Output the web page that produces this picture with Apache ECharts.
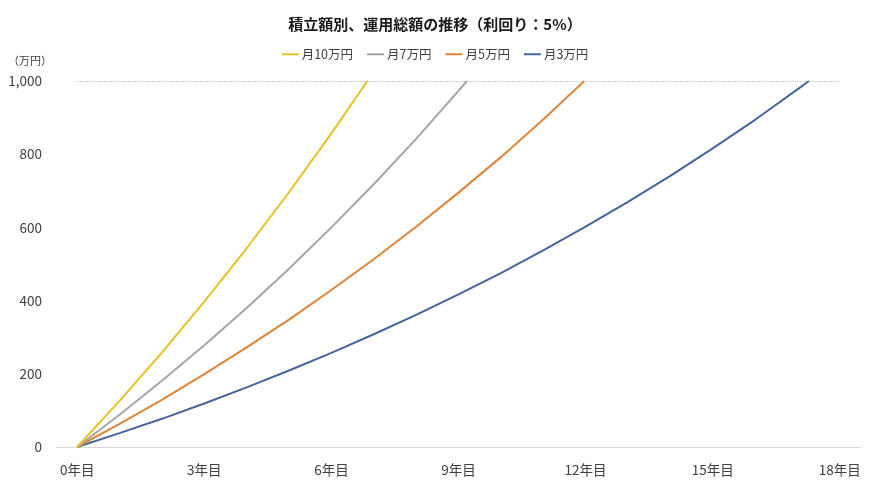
<!DOCTYPE html>
<html>
<head>
<meta charset="utf-8">
<script src="https://cdn.jsdelivr.net/npm/echarts@6/dist/echarts.min.js"></script>
<style>
  html, body { margin: 0; padding: 0; background: #fff; }
  #main { width: 870px; height: 489px; }
</style>
</head>
<body>
<div id="main"></div>
<script>
// 経過年数
var years = [0, 1, 2, 3, 4, 5, 6, 7, 8, 9, 10, 11, 12, 13, 14, 15, 16, 17];

// 運用総額（万円）
var m10Values = [0, 126, 258, 397, 543, 696, 857];
var m7Values = [0, 88, 181, 278, 380, 487, 600, 718, 842, 973];
var m5Values = [0, 63, 129, 199, 272, 348, 429, 513, 602, 695, 792, 895];
var m3Values = [0, 38, 77, 119, 163, 209, 257, 308, 361, 417, 475, 537, 602, 670, 741, 816, 894, 977];

// 1,000万円到達年
var m10Reach = 6.85;
var m7Reach = 9.2;
var m5Reach = 11.97;
var m3Reach = 17.27;

var goal = 1000;
var xTicks = [0, 3, 6, 9, 12, 15, 18];
var seriesNames = ['月10万円', '月7万円', '月5万円', '月3万円'];
var colors = ['#E6C224', '#A5A5A5', '#DD8539', '#46659C'];

var font = '"Noto Sans CJK JP", "Noto Sans", sans-serif';

function toPoints(vals, reach) {
    var pts = [];
    for (var i = 0; i < vals.length; i++) {
        pts.push([years[i], vals[i]]);
    }
    pts.push([reach, goal]);
    return pts;
}

var seriesData = [
    toPoints(m10Values, m10Reach),
    toPoints(m7Values, m7Reach),
    toPoints(m5Values, m5Reach),
    toPoints(m3Values, m3Reach)
];

var myChart = echarts.init(document.getElementById('main'));

var series = seriesData.map(function (d, idx) {
    return {
        name: seriesNames[idx],
        type: 'line',
        data: d,
        showSymbol: false,
        symbol: 'none',
        lineStyle: { width: 2, color: colors[idx] },
        itemStyle: { color: colors[idx] },
        z: 10 - idx
    };
});

// 1,000万円の点線
series[0].markLine = {
    silent: true,
    symbol: 'none',
    label: { show: false },
    lineStyle: { type: 'dotted', color: '#BFBFBF', width: 1.2 },
    data: [[{ coord: [xTicks[0], goal] }, { coord: [xTicks[xTicks.length - 1], goal] }]]
};

var option = {
    animation: false,
    backgroundColor: '#fff',
    textStyle: { fontFamily: font },
    title: {
        text: '積立額別、運用総額の推移（利回り：5%）',
        left: 'center',
        top: 12,
        textStyle: { fontFamily: font, fontSize: 15, fontWeight: 'bold', color: '#1a1a1a' }
    },
    legend: {
        data: seriesNames,
        top: 43,
        left: 'center',
        icon: 'rect',
        itemWidth: 17,
        itemHeight: 2,
        itemGap: 14,
        textStyle: { fontFamily: font, fontSize: 12.5, color: '#404040', padding: [0, 0, 0, -2] }
    },
    graphic: [{
        type: 'text',
        left: 8,
        top: 55,
        style: { text: '（万円）', font: '11px ' + font, fill: '#404040' }
    }],
    grid: { left: 56, right: 9, top: 81, bottom: 42 },
    xAxis: {
        type: 'value',
        min: -0.5,
        max: 18.5,
        axisLine: { show: true, lineStyle: { color: '#D9D9D9', width: 1 } },
        axisTick: { show: false },
        splitLine: { show: false },
        axisLabel: {
            customValues: xTicks,
            formatter: function (v) { return v + '年目'; },
            margin: 16,
            fontFamily: font,
            fontSize: 13.5,
            color: '#404040'
        }
    },
    yAxis: {
        type: 'value',
        min: 0,
        max: 1000,
        interval: 200,
        axisLine: { show: false },
        axisTick: { show: false },
        splitLine: { show: false },
        axisLabel: {
            margin: 14,
            fontFamily: font,
            fontSize: 13.5,
            color: '#404040',
            formatter: function (v) { return v.toLocaleString('en-US'); }
        }
    },
    series: series
};

option && myChart.setOption(option);
</script>
</body>
</html>
